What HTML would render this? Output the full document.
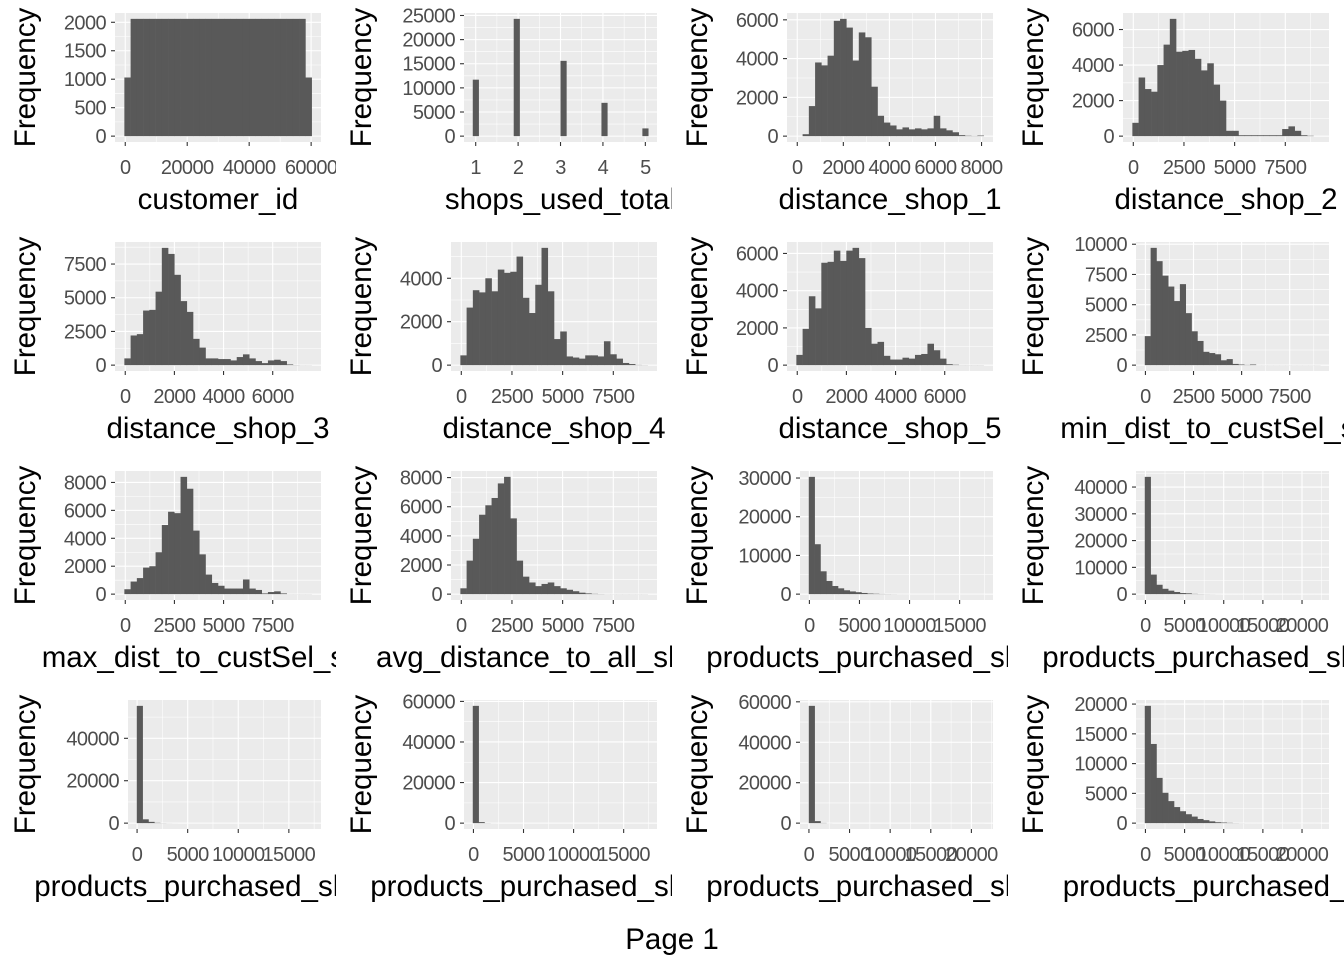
<!DOCTYPE html>
<html><head><meta charset="utf-8"><style>
html,body{margin:0;padding:0;background:#fff;}
svg{display:block;font-family:"Liberation Sans",Arial,sans-serif;}
</style></head><body>
<svg id="chart" width="1344" height="960" viewBox="0 0 1344 960" xmlns="http://www.w3.org/2000/svg">
<rect x="0" y="0" width="1344" height="960" fill="#fff"/>
<text x="672" y="949" text-anchor="middle" font-size="29.5" fill="#000">Page 1</text>
</svg>
<script>
const panelTitles = ["customer_id","shops_used_total","distance_shop_1","distance_shop_2","distance_shop_3","distance_shop_4","distance_shop_5","min_dist_to_custSel_shop","max_dist_to_custSel_shop","avg_distance_to_all_shops","products_purchased_shop_1","products_purchased_shop_2","products_purchased_shop_3","products_purchased_shop_4","products_purchased_shop_5","products_purchased_total"];
const binStarts = [-288,0.931,-39,-46,-36,-46,-36,-34,-46,-46,-62,-85,-30,-67,-20,-85];
const binWidths = [2015,0.1379,271,308,254,308,254,304,317.5,308,584,747,578,584,720,747];
const counts1 = [1030,2060,2060,2060,2060,2060,2060,2060,2060,2060,2060,2060,2060,2060,2060,2060,2060,2060,2060,2060,2060,2060,2060,2060,2060,2060,2060,2060,2060,1030];
const counts2 = [11700,0,0,0,0,0,0,24300,0,0,0,0,0,0,0,15600,0,0,0,0,0,0,6900,0,0,0,0,0,0,1600];
const counts3 = [0,100,1550,3800,3650,4150,5950,6050,5600,3900,5350,5100,2550,1050,700,550,350,450,350,400,350,400,1050,400,300,200,50,20,10,30];
const counts4 = [750,3300,2650,2500,4000,5150,6600,4750,4800,4850,4350,3700,4100,2900,2000,300,300,50,50,50,50,50,50,50,400,550,300,50,20,0];
const counts5 = [500,2200,2300,4050,4100,5450,8700,8250,6700,4750,3950,1950,1300,500,500,450,450,350,600,800,500,300,150,350,400,300,50,10,5,5];
const counts6 = [450,2650,3450,3350,4000,3400,4400,4250,4300,5000,3100,2400,3700,5400,3400,1200,1550,400,350,300,450,450,400,1100,500,300,100,50,10,5];
const counts7 = [550,1950,3700,3050,5500,5550,6150,5600,6150,6300,5750,2000,1150,1250,500,300,300,400,350,550,600,1150,800,350,50,20,5,5,5,5];
const counts8 = [2400,9700,8600,7400,6500,5300,6700,4300,2800,2000,1100,1000,900,400,500,100,50,20,50,5,5,5,5,5,5,5,5,5,5,5];
const counts9 = [350,900,1150,1900,2000,3000,4950,5900,5800,8400,7550,4550,2850,1400,800,600,400,400,400,1050,400,300,50,150,200,50,5,5,5,5];
const counts10 = [400,2300,3800,5450,6100,6600,7600,8050,5200,2300,1200,800,550,700,800,550,400,300,200,100,50,20,10,5,5,5,5,5,5,5];
const counts11 = [30300,12900,5900,3400,2100,1500,1000,700,500,300,150,100,50,30,20,10,10,5,5,5,5,5,5,5,5,5,5,5,5,5];
const counts12 = [43800,7300,3500,2000,1300,800,400,300,100,50,30,20,10,5,5,5,5,5,5,5,5,5,5,5,5,5,5,5,5,5];
const counts13 = [55300,1800,600,150,50,20,10,5,5,5,5,5,5,5,5,5,5,5,5,5,5,5,5,5,5,5,5,5,5,5];
const counts14 = [57800,500,50,10,5,5,5,5,5,5,5,5,5,5,5,5,5,5,5,5,5,5,5,5,5,5,5,5,5,5];
const counts15 = [58000,1000,100,20,5,5,5,5,5,5,5,5,5,5,5,5,5,5,5,5,5,5,5,5,5,5,5,5,5,5];
const counts16 = [19700,13300,7600,5100,3700,2700,2000,1500,1100,700,500,300,150,100,50,20,10,5,5,5,5,5,5,5,5,5,5,5,5,5];
const xTicks1=[0,20000,40000,60000], xTicks2=[1,2,3,4,5], xTicks3=[0,2000,4000,6000,8000], xTicks4=[0,2500,5000,7500];
const xTicks5=[0,2000,4000,6000], xTicks6=[0,2500,5000,7500], xTicks7=[0,2000,4000,6000], xTicks8=[0,2500,5000,7500];
const xTicks9=[0,2500,5000,7500], xTicks10=[0,2500,5000,7500], xTicks11=[0,5000,10000,15000], xTicks12=[0,5000,10000,15000,20000];
const xTicks13=[0,5000,10000,15000], xTicks14=[0,5000,10000,15000], xTicks15=[0,5000,10000,15000,20000], xTicks16=[0,5000,10000,15000,20000];
const yTicks1=[0,500,1000,1500,2000], yTicks2=[0,5000,10000,15000,20000,25000], yTicks3=[0,2000,4000,6000], yTicks4=[0,2000,4000,6000];
const yTicks5=[0,2500,5000,7500], yTicks6=[0,2000,4000], yTicks7=[0,2000,4000,6000], yTicks8=[0,2500,5000,7500,10000];
const yTicks9=[0,2000,4000,6000,8000], yTicks10=[0,2000,4000,6000,8000], yTicks11=[0,10000,20000,30000], yTicks12=[0,10000,20000,30000,40000];
const yTicks13=[0,20000,40000], yTicks14=[0,20000,40000,60000], yTicks15=[0,20000,40000,60000], yTicks16=[0,5000,10000,15000,20000];

const allCounts=[counts1,counts2,counts3,counts4,counts5,counts6,counts7,counts8,counts9,counts10,counts11,counts12,counts13,counts14,counts15,counts16];
const allX=[xTicks1,xTicks2,xTicks3,xTicks4,xTicks5,xTicks6,xTicks7,xTicks8,xTicks9,xTicks10,xTicks11,xTicks12,xTicks13,xTicks14,xTicks15,xTicks16];
const allY=[yTicks1,yTicks2,yTicks3,yTicks4,yTicks5,yTicks6,yTicks7,yTicks8,yTicks9,yTicks10,yTicks11,yTicks12,yTicks13,yTicks14,yTicks15,yTicks16];

const NS="http://www.w3.org/2000/svg";
const svg=document.getElementById('chart');
function mk(tag,attrs,parent){const e=document.createElementNS(NS,tag);for(const k in attrs)e.setAttribute(k,attrs[k]);(parent||svg).appendChild(e);return e;}
const defs=mk('defs',{});

for(let p=0;p<16;p++){
  const c=p%4, r=Math.floor(p/4);
  const colX=c*336, rowY=r*229;
  const counts=allCounts[p], xt=allX[p], yt=allY[p];
  const maxLen=Math.max(...yt.map(v=>String(v).length));
  const left=colX+63+13*maxLen, right=colX+321, top=rowY+13, bottom=rowY+142;
  const b0=binStarts[p], bw=binWidths[p], span=bw*counts.length;
  const dmin=b0-0.05*span, dmax=b0+span+0.05*span;
  const ymax=Math.max(...counts), ymin=-0.05*ymax, ytop=1.05*ymax;
  const xs=v=>left+(v-dmin)/(dmax-dmin)*(right-left);
  const ys=v=>bottom-(v-ymin)/(ytop-ymin)*(bottom-top);

  const cp=mk('clipPath',{id:'clip'+p},defs);
  mk('rect',{x:colX,y:rowY,width:336,height:229},cp);
  const g=mk('g',{'clip-path':'url(#clip'+p+')'});
  
  

  const bg=mk('rect',{x:left,y:top,width:right-left,height:bottom-top,fill:'#ebebeb'},g);
  
  

  const grid=mk('g',{},g);
  
  
  const xstep=xt[1]-xt[0], ystep=yt[1]-yt[0];
  for(let v=xt[0]-xstep*3;v<=xt[xt.length-1]+xstep*3;v+=xstep){
    const m=v+xstep/2, xm=xs(m);
    if(xm>left&&xm<right) mk('line',{x1:xm,x2:xm,y1:top,y2:bottom,stroke:'#fff','stroke-width':0.55},grid);
  }
  for(let v=yt[0]-ystep*3;v<=yt[yt.length-1]+ystep*3;v+=ystep){
    const m=v+ystep/2, ym=ys(m);
    if(ym>top&&ym<bottom) mk('line',{x1:left,x2:right,y1:ym,y2:ym,stroke:'#fff','stroke-width':0.55},grid);
  }
  xt.forEach(v=>{const x=xs(v);mk('line',{x1:x,x2:x,y1:top,y2:bottom,stroke:'#fff','stroke-width':1.1},grid);});
  yt.forEach(v=>{const y=ys(v);mk('line',{x1:left,x2:right,y1:y,y2:y,stroke:'#fff','stroke-width':1.1},grid);});

  const bars=mk('g',{},g);
  
  
  counts.forEach((n,i)=>{
    const x0=xs(b0+i*bw), x1=xs(b0+(i+1)*bw), y=ys(n), y0=ys(0);
    const b=mk('rect',{x:x0,y:y,width:Math.max(0,x1-x0+0.3),height:Math.max(0,y0-y),fill:'#595959'},bars);
    
    
  });

  xt.forEach(v=>{
    const x=xs(v);
    mk('line',{x1:x,x2:x,y1:bottom,y2:bottom+4,stroke:'#333','stroke-width':1.1},g);
    const t=mk('text',{x:x,y:rowY+174,'text-anchor':'middle','font-size':20,'letter-spacing':-0.6,fill:'#4d4d4d'},g);
    t.textContent=String(v);
    
    
  });
  yt.forEach(v=>{
    const y=ys(v);
    mk('line',{x1:left-4,x2:left,y1:y,y2:y,stroke:'#333','stroke-width':1.1},g);
    const t=mk('text',{x:left-9,y:y+7,'text-anchor':'end','font-size':20,'letter-spacing':-0.6,fill:'#4d4d4d'},g);
    t.textContent=String(v);
    
    
  });

  const xt2=mk('text',{x:(left+right)/2,y:rowY+209,'text-anchor':'middle','font-size':29.5,fill:'#000'},g);
  xt2.textContent=panelTitles[p];
  
  
  const cy=(top+bottom)/2, cx=colX+35;
  const yt2=mk('text',{x:cx,y:cy,'text-anchor':'middle','font-size':29.5,fill:'#000',transform:'rotate(-90 '+cx+' '+cy+')'},g);
  yt2.textContent='Frequency';
  
  
}
</script>
</body></html>
